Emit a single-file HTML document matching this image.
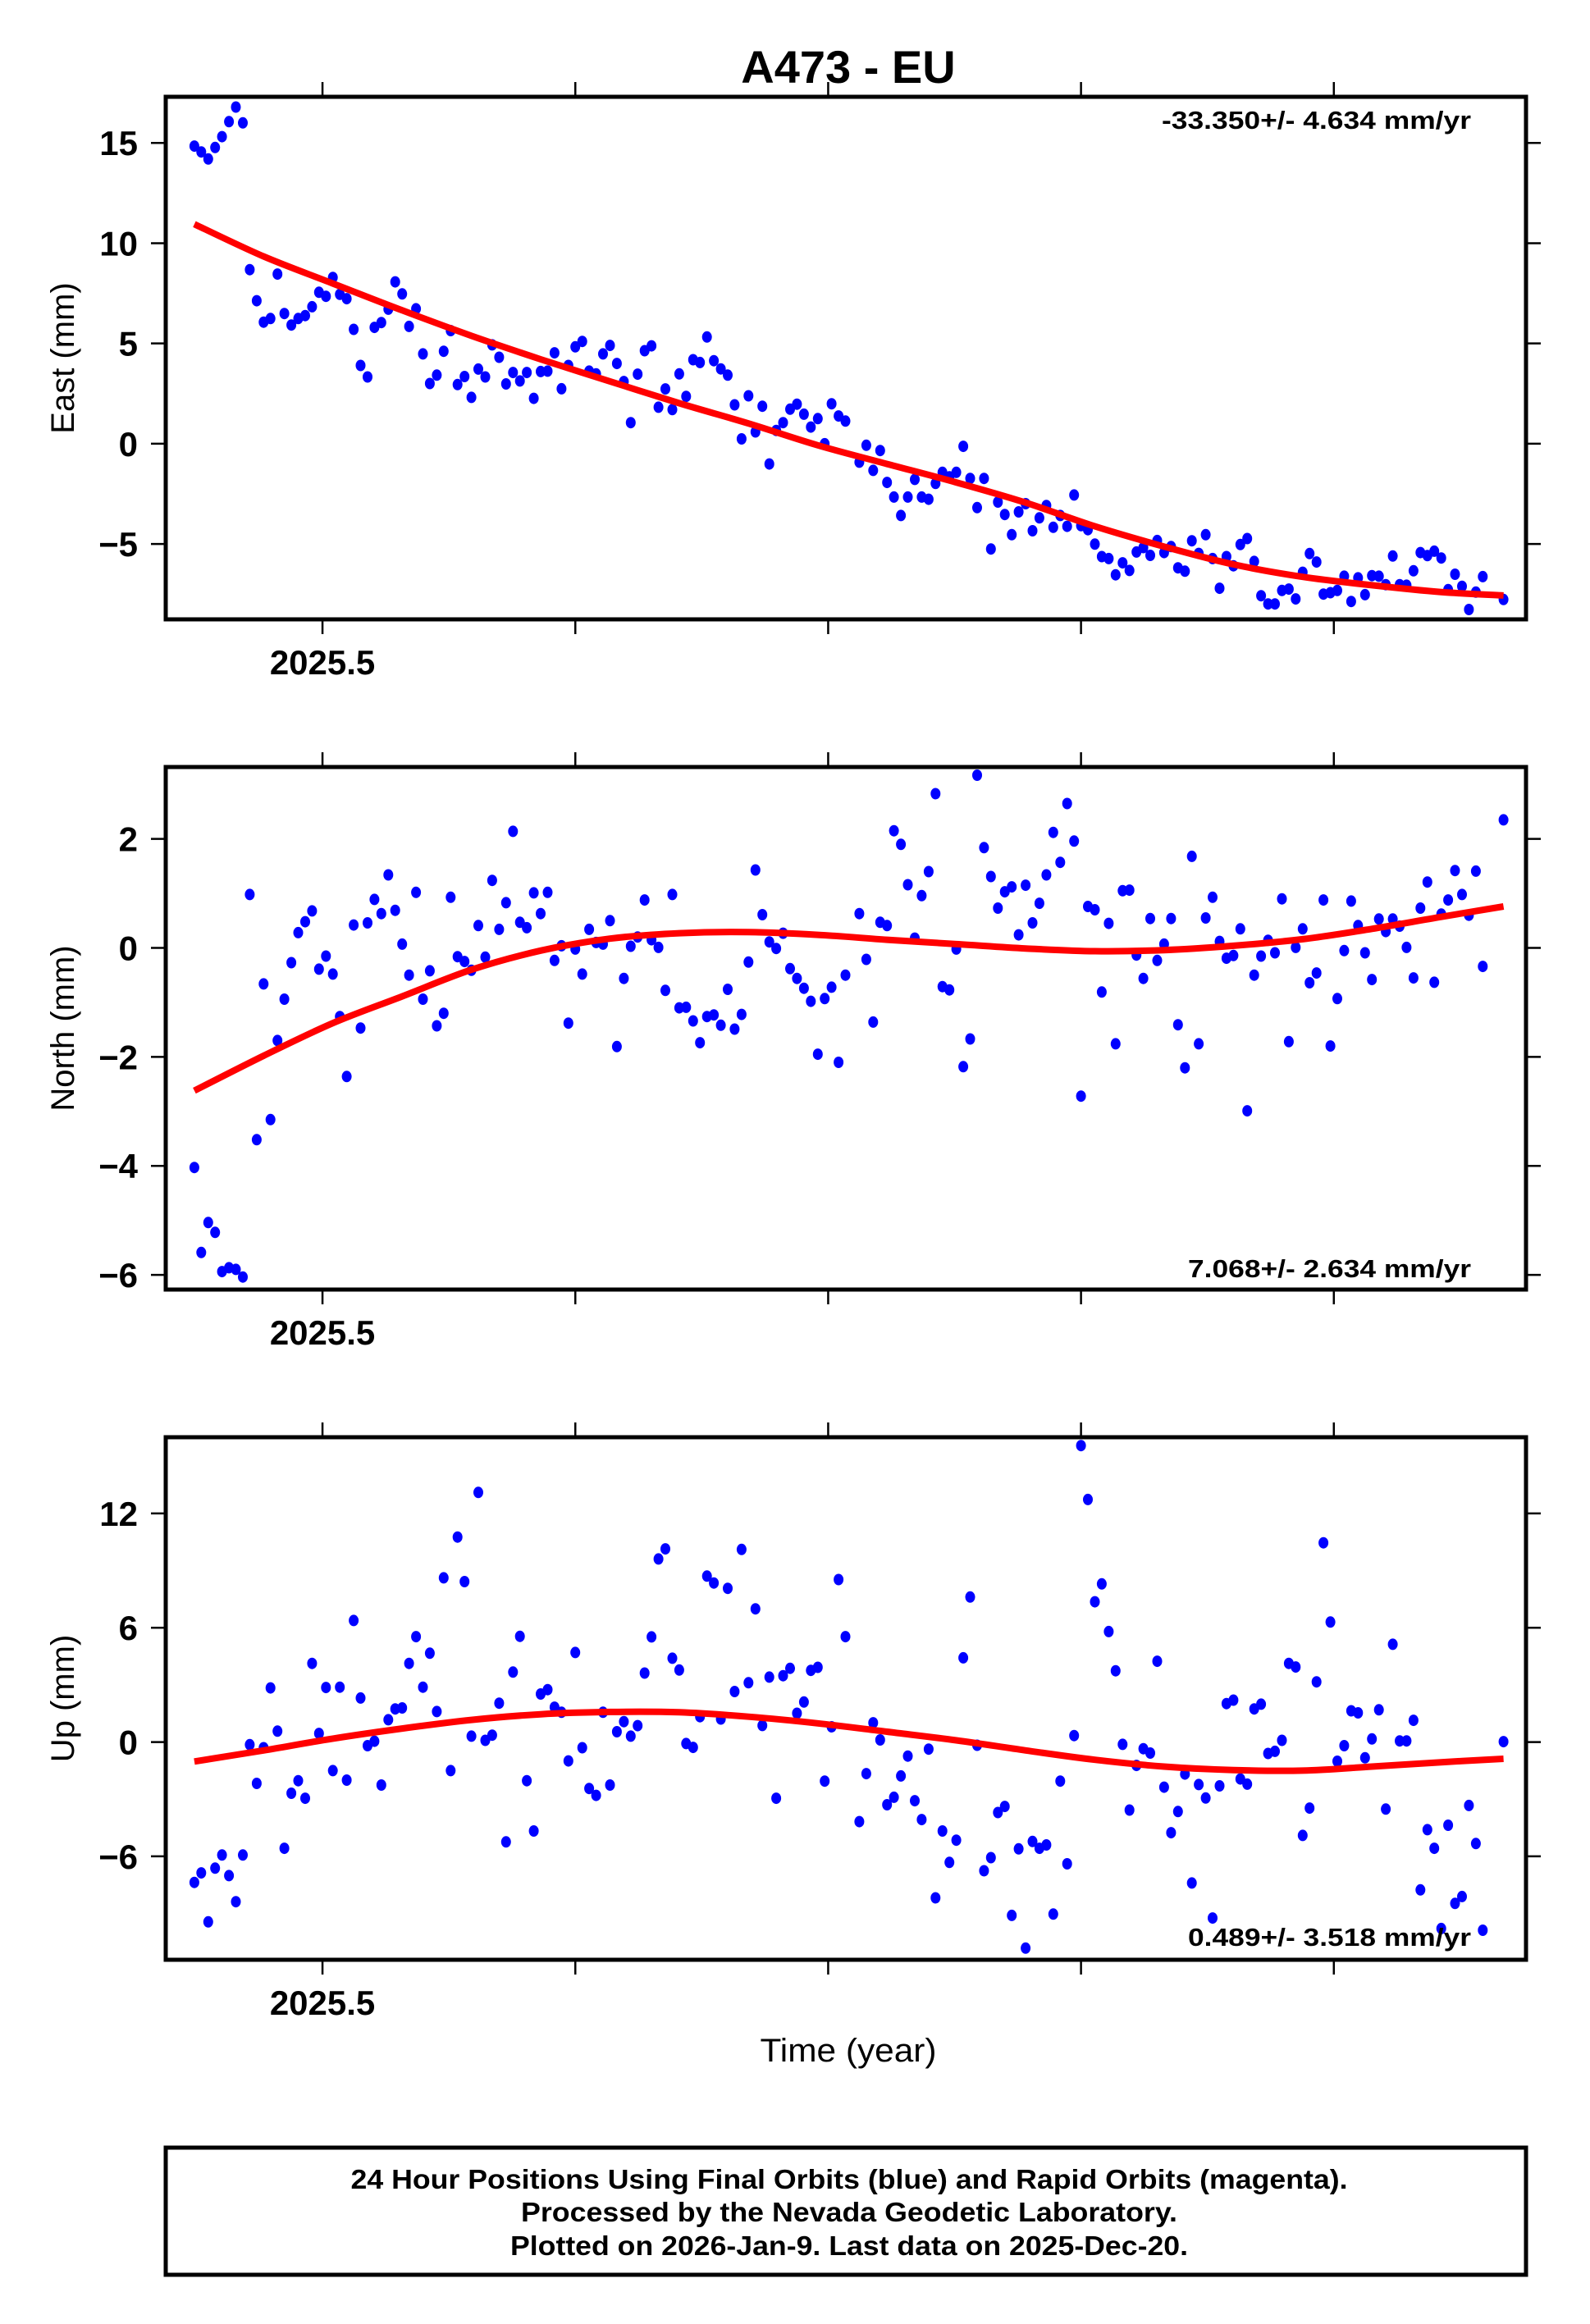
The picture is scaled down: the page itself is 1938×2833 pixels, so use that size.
<!DOCTYPE html>
<html><head><meta charset="utf-8"><title>A473 - EU</title>
<style>
html,body{margin:0;padding:0;background:#fff;}
svg{display:block;font-family:"Liberation Sans",Arial,sans-serif;}
</style></head>
<body>
<svg id="chart" xmlns="http://www.w3.org/2000/svg" width="1938" height="2833" viewBox="0 0 1938 2833">
<rect x="0" y="0" width="1938" height="2833" fill="#fff"/>
<text x="1034" y="101" font-size="56" font-weight="bold" text-anchor="middle">A473 - EU</text>
<g id="plots"></g>
<text x="1034" y="2513" font-size="40" text-anchor="middle" textLength="215" lengthAdjust="spacingAndGlyphs">Time (year)</text>
<rect x="202" y="2618" width="1658" height="155" fill="none" stroke="#000" stroke-width="5"/>
<text x="1035" y="2668" font-size="33" font-weight="bold" text-anchor="middle" textLength="1215" lengthAdjust="spacingAndGlyphs">24 Hour Positions Using Final Orbits (blue) and Rapid Orbits (magenta).</text>
<text x="1035" y="2708" font-size="33" font-weight="bold" text-anchor="middle" textLength="800" lengthAdjust="spacingAndGlyphs">Processed by the Nevada Geodetic Laboratory.</text>
<text x="1035" y="2749" font-size="33" font-weight="bold" text-anchor="middle" textLength="826" lengthAdjust="spacingAndGlyphs">Plotted on 2026-Jan-9. Last data on 2025-Dec-20.</text>
</svg>
<script>
// Day-of-year of each daily solution (2025)
const days = [164,165,166,167,168,169,170,171,172,173,174,175,176,177,178,179,180,181,182,183,184,185,186,187,188,189,190,191,192,193,194,195,196,197,198,199,200,201,202,203,204,205,206,207,208,209,210,211,212,213,214,215,216,217,218,219,220,221,222,223,224,225,226,227,228,229,230,231,232,233,234,235,236,237,238,239,240,241,242,243,244,245,246,247,248,249,250,251,252,253,254,255,256,257,258,
260,261,262,263,264,265,266,267,268,269,270,271,272,273,274,275,276,277,278,279,280,281,282,283,284,285,286,287,288,289,290,291,292,293,294,295,296,297,298,299,300,301,302,303,304,305,306,307,308,309,310,311,312,313,314,315,316,317,318,319,320,321,322,323,324,325,326,327,328,329,330,331,332,333,334,335,336,337,338,339,340,341,342,343,344,345,346,347,348,349,350,353];
const eastValues = [14.84,14.55,14.2,14.77,15.31,16.06,16.79,16.0,8.68,7.13,6.06,6.24,8.46,6.49,5.92,6.24,6.39,6.83,7.55,7.35,8.29,7.45,7.23,5.70,3.90,3.33,5.80,6.04,6.71,8.07,7.47,5.85,6.73,4.48,3.0,3.42,4.61,5.64,2.95,3.35,2.31,3.72,3.33,4.93,4.31,2.98,3.55,3.13,3.55,2.26,3.6,3.62,4.53,2.74,3.90,4.83,5.10,3.62,3.48,4.48,4.90,4.0,3.1,1.05,3.47,4.64,4.88,1.82,2.73,1.70,3.48,2.36,4.19,4.05,5.32,4.14,3.73,3.42,1.94,0.24,2.39,0.59,1.87,-1.01,0.66,1.05,1.72,1.97,1.47,0.83,1.25,0.0,1.99,1.38,1.13,
-0.92,-0.08,-1.33,-0.34,-1.93,-2.66,-3.58,-2.66,-1.78,-2.66,-2.77,-1.98,-1.43,-1.65,-1.43,-0.13,-1.73,-3.19,-1.73,-5.25,-2.91,-3.53,-4.54,-3.40,-2.99,-4.34,-3.70,-3.08,-4.17,-3.58,-4.12,-2.56,-4.09,-4.29,-5.01,-5.63,-5.73,-6.54,-5.94,-6.32,-5.40,-5.18,-5.57,-4.83,-5.43,-5.13,-6.19,-6.36,-4.84,-5.47,-4.54,-5.73,-7.21,-5.63,-6.09,-5.03,-4.73,-5.87,-7.58,-7.99,-7.99,-7.32,-7.25,-7.74,-6.41,-5.48,-5.90,-7.50,-7.43,-7.32,-6.61,-7.87,-6.69,-7.53,-6.58,-6.61,-7.03,-5.60,-7.03,-7.06,-6.34,-5.43,-5.58,-5.36,-5.70,-7.28,-6.51,-7.11,-8.27,-7.40,-6.63,-7.77];
const northValues = [-4.03,-5.59,-5.04,-5.22,-5.94,-5.87,-5.90,-6.04,0.98,-3.52,-0.66,-3.15,-1.70,-0.94,-0.27,0.28,0.48,0.68,-0.39,-0.15,-0.48,-1.26,-2.36,0.42,-1.47,0.46,0.89,0.63,1.34,0.69,0.07,-0.50,1.02,-0.94,-0.42,-1.43,-1.20,0.93,-0.16,-0.25,-0.41,0.41,-0.17,1.24,0.34,0.83,2.14,0.47,0.37,1.01,0.63,1.02,-0.23,0.04,-1.38,-0.02,-0.48,0.34,0.10,0.07,0.50,-1.81,-0.56,0.03,0.20,0.88,0.15,0.01,-0.78,0.98,-1.10,-1.09,-1.34,-1.74,-1.26,-1.23,-1.42,-0.76,-1.49,-1.22,-0.26,1.43,0.61,0.11,-0.01,0.27,-0.38,-0.56,-0.74,-0.98,-1.95,-0.93,-0.72,-2.10,-0.50,
0.63,-0.21,-1.36,0.47,0.41,2.15,1.90,1.16,0.18,0.96,1.40,2.83,-0.71,-0.77,-0.02,-2.18,-1.67,3.17,1.84,1.31,0.73,1.03,1.12,0.24,1.15,0.46,0.82,1.34,2.12,1.57,2.65,1.96,-2.72,0.76,0.70,-0.81,0.45,-1.76,1.05,1.06,-0.13,-0.56,0.54,-0.23,0.07,0.54,-1.41,-2.20,1.68,-1.76,0.55,0.93,0.12,-0.19,-0.14,0.35,-2.99,-0.50,-0.15,0.14,-0.09,0.90,-1.72,0.01,0.35,-0.64,-0.46,0.88,-1.80,-0.93,-0.05,0.86,0.41,-0.09,-0.58,0.53,0.30,0.53,0.40,0.01,-0.55,0.73,1.21,-0.63,0.62,0.88,1.42,0.98,0.60,1.41,-0.34,2.35];
const upValues = [-7.37,-6.87,-9.44,-6.62,-5.93,-7.01,-8.38,-5.93,-0.14,-2.17,-0.30,2.84,0.57,-5.58,-2.69,-2.03,-2.95,4.13,0.45,2.86,-1.50,2.88,-2.0,6.38,2.31,-0.19,0.04,-2.26,1.17,1.74,1.79,4.13,5.53,2.88,4.66,1.60,8.62,-1.50,10.76,8.42,0.31,13.10,0.09,0.36,2.04,-5.24,3.67,5.55,-2.03,-4.67,2.52,2.75,1.83,1.56,-0.99,4.70,-0.30,-2.44,-2.80,1.56,-2.26,0.54,1.07,0.31,0.86,3.62,5.52,9.61,10.14,4.40,3.78,-0.08,-0.28,1.33,8.71,8.35,1.21,8.07,2.65,10.11,3.11,6.99,0.87,3.41,-2.95,3.48,3.87,1.51,2.10,3.76,3.92,-2.05,0.80,8.53,5.53,
-4.18,-1.66,1.01,0.11,-3.29,-2.90,-1.78,-0.74,-3.08,-4.07,-0.37,-8.18,-4.67,-6.32,-5.15,4.42,7.61,-0.17,-6.76,-6.07,-3.70,-3.38,-9.10,-5.61,-10.82,-5.22,-5.58,-5.40,-9.03,-2.05,-6.39,0.34,15.56,12.73,7.36,8.30,5.80,3.74,-0.12,-3.57,-1.23,-0.35,-0.58,4.24,-2.37,-4.76,-3.65,-1.68,-7.40,-2.23,-2.94,-9.24,-2.30,2.02,2.20,-1.94,-2.21,1.74,1.99,-0.60,-0.49,0.09,4.13,3.94,-4.90,-3.47,3.16,10.46,6.30,-1.01,-0.19,1.64,1.53,-0.83,0.16,1.69,-3.52,5.13,0.06,0.06,1.14,-7.76,-4.60,-5.58,-9.79,-4.37,-8.47,-8.11,-3.33,-5.33,-9.88,0.02];
// Model fit curves sampled at these days
const fitDays = [164,174,184,194,204,214,224,234,244,254,264,274,284,294,304,314,324,334,344,353];
const eastFit = [10.95,9.34,7.99,6.65,5.38,4.21,3.11,2.02,1.01,-0.08,-1.01,-1.93,-2.94,-4.12,-5.13,-6.02,-6.64,-7.06,-7.40,-7.57];
const northFit = [-2.62,-1.98,-1.38,-0.89,-0.40,-0.05,0.17,0.27,0.29,0.24,0.15,0.07,-0.01,-0.06,-0.04,0.04,0.16,0.35,0.57,0.76];
const upFit = [-1.02,-0.44,0.18,0.71,1.16,1.46,1.58,1.56,1.33,0.98,0.54,0.09,-0.44,-0.93,-1.29,-1.47,-1.50,-1.29,-1.06,-0.88];
const xTicks = [2025.5,2025.6,2025.7,2025.8,2025.9];
const xTickLabels = ["2025.5","","","",""];
const eastTicks = [15,10,5,0,-5];
const northTicks = [2,0,-2,-4,-6];
const upTicks = [12,6,0,-6];
const rateLabels = ["-33.350+/- 4.634 mm/yr","7.068+/- 2.634 mm/yr","0.489+/- 3.518 mm/yr"];

const NS = "http://www.w3.org/2000/svg";
const X0 = 202, X1 = 1860, YR0 = 2025.438, YR1 = 2025.976;
function xOfYear(y){ return X0 + (y - YR0) / (YR1 - YR0) * (X1 - X0); }
function xOfDay(d){ return xOfYear(2025 + d / 365); }
function mk(tag, attrs){ const e = document.createElementNS(NS, tag); for (const k in attrs) e.setAttribute(k, attrs[k]); return e; }
function smoothPath(P){
  let d = "M" + P[0][0].toFixed(1) + "," + P[0][1].toFixed(1);
  for (let i = 0; i < P.length - 1; i++) {
    const p0 = P[Math.max(0, i - 1)], p1 = P[i], p2 = P[i + 1], p3 = P[Math.min(P.length - 1, i + 2)];
    const c1x = p1[0] + (p2[0] - p0[0]) / 6, c1y = p1[1] + (p2[1] - p0[1]) / 6;
    const c2x = p2[0] - (p3[0] - p1[0]) / 6, c2y = p2[1] - (p3[1] - p1[1]) / 6;
    d += " C" + c1x.toFixed(1) + "," + c1y.toFixed(1) + " " + c2x.toFixed(1) + "," + c2y.toFixed(1) + " " + p2[0].toFixed(1) + "," + p2[1].toFixed(1);
  }
  return d;
}

const panels = [
  {key:"east", title:"East (mm)", top:118, bottom:755, vmax:17.3, vmin:-8.76, vals:eastValues, fit:eastFit, ticks:eastTicks, rate:rateLabels[0], rateY:157, rateW:377},
  {key:"north", title:"North (mm)", top:935, bottom:1572, vmax:3.32, vmin:-6.27, vals:northValues, fit:northFit, ticks:northTicks, rate:rateLabels[1], rateY:1557, rateW:345},
  {key:"up", title:"Up (mm)", top:1752, bottom:2389, vmax:16.0, vmin:-11.43, vals:upValues, fit:upFit, ticks:upTicks, rate:rateLabels[2], rateY:2372, rateW:345}
];
const root = document.getElementById("plots");
panels.forEach(p => {
  const g = mk("g", {});
  
  
  root.appendChild(g);
  const yOf = v => p.top + (p.vmax - v) / (p.vmax - p.vmin) * (p.bottom - p.top);
  const clip = mk("clipPath", {id:"clip-" + p.key});
  clip.appendChild(mk("rect", {x:X0, y:p.top, width:X1 - X0, height:p.bottom - p.top}));
  g.appendChild(clip);
  const dots = mk("g", {"clip-path":"url(#clip-" + p.key + ")", fill:"#0000ff"});
  
  
  g.appendChild(dots);
  p.vals.forEach((v, i) => {
    const c = mk("ellipse", {cx:xOfDay(days[i]).toFixed(1), cy:yOf(v).toFixed(1), rx:6, ry:7});
    
    
    dots.appendChild(c);
  });
  const P = fitDays.map((d, i) => [xOfDay(d), yOf(p.fit[i])]);
  const fl = mk("path", {d:smoothPath(P), fill:"none", stroke:"#ff0000", "stroke-width":8, "stroke-linejoin":"round"});
  
  
  g.appendChild(fl);
  const fr = mk("rect", {x:X0, y:p.top, width:X1 - X0, height:p.bottom - p.top, fill:"none", stroke:"#000", "stroke-width":5});
  
  
  g.appendChild(fr);
  xTicks.forEach((t, i) => {
    const x = xOfYear(t);
    const tt = mk("line", {x1:x, x2:x, y1:p.top - 18, y2:p.top, stroke:"#000", "stroke-width":2.5});
    
    
    g.appendChild(tt);
    const tb = mk("line", {x1:x, x2:x, y1:p.bottom, y2:p.bottom + 18, stroke:"#000", "stroke-width":2.5});
    
    
    g.appendChild(tb);
    if (xTickLabels[i]) {
      const lb = mk("text", {x:x, y:p.bottom + 67, "font-size":42, "font-weight":"bold", "text-anchor":"middle"});
      lb.textContent = xTickLabels[i];
      
      
      g.appendChild(lb);
    }
  });
  p.ticks.forEach(t => {
    const y = yOf(t);
    const tl = mk("line", {x1:X0 - 18, x2:X0, y1:y, y2:y, stroke:"#000", "stroke-width":2.5});
    
    
    g.appendChild(tl);
    const tr = mk("line", {x1:X1, x2:X1 + 18, y1:y, y2:y, stroke:"#000", "stroke-width":2.5});
    
    
    g.appendChild(tr);
    const lb = mk("text", {x:168, y:y + 15, "font-size":42, "font-weight":"bold", "text-anchor":"end"});
    lb.textContent = t < 0 ? "\u2212" + Math.abs(t) : String(t);
    
    
    g.appendChild(lb);
  });
  const cy = (p.top + p.bottom) / 2;
  const yt = mk("text", {x:0, y:0, "font-size":40, "text-anchor":"middle", transform:"translate(90," + cy + ") rotate(-90)"});
  yt.textContent = p.title;
  
  
  g.appendChild(yt);
  const rt = mk("text", {x:1793, y:p.rateY, "font-size":31, "font-weight":"bold", "text-anchor":"end", textLength:p.rateW, lengthAdjust:"spacingAndGlyphs"});
  rt.textContent = p.rate;
  
  
  g.appendChild(rt);
});
</script>
</body></html>
